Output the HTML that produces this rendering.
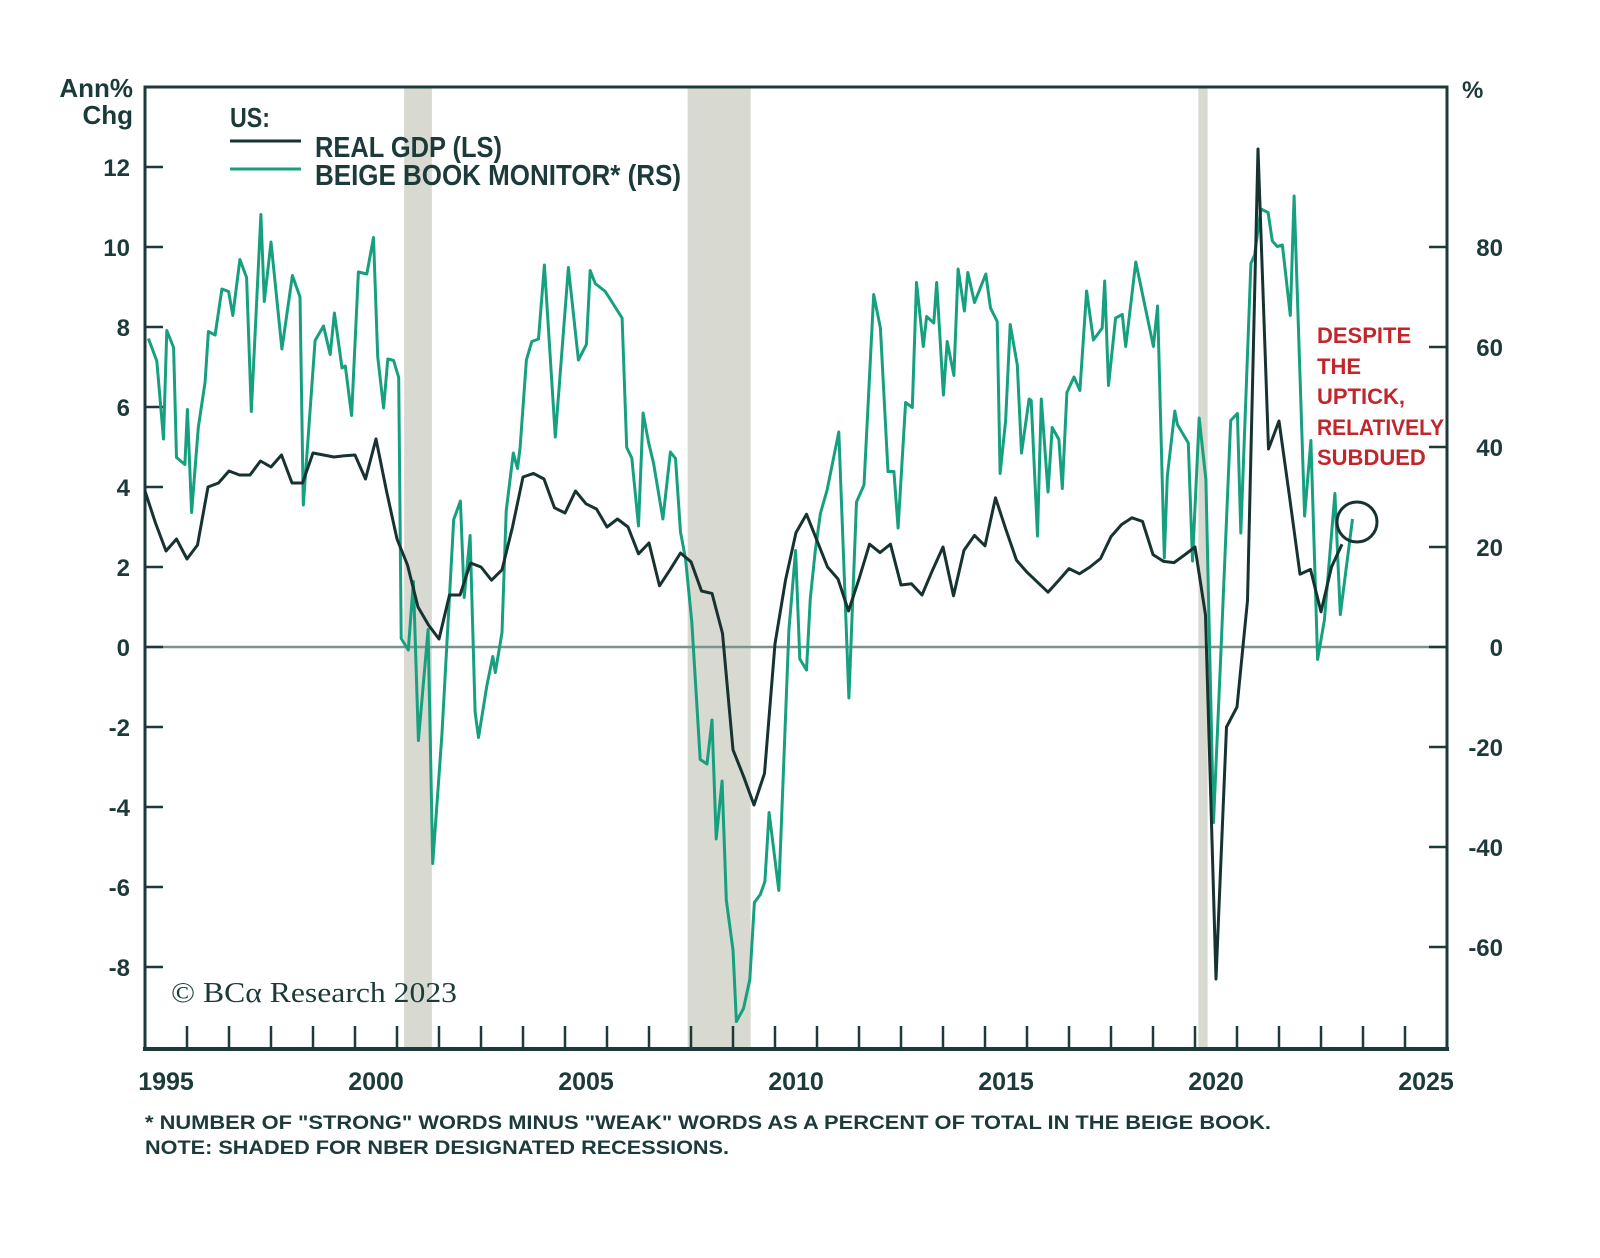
<!DOCTYPE html>
<html><head><meta charset="utf-8"><style>
html,body{margin:0;padding:0;background:#fff;}
svg{display:block;}
text{font-family:"Liberation Sans",sans-serif;fill:#1c3a39;}
</style></head><body>
<svg id="chart" width="1600" height="1258" viewBox="0 0 1600 1258" xmlns="http://www.w3.org/2000/svg">
<g id="shade"></g>
<g id="grid"></g>
<g id="series"></g>
<g>
<text x="230" y="127" font-size="28" font-weight="bold" textLength="40" lengthAdjust="spacingAndGlyphs">US:</text>
<line x1="230" y1="141" x2="301" y2="141" stroke="#163332" stroke-width="3"/>
<text x="315" y="157" font-size="29" font-weight="bold" textLength="187" lengthAdjust="spacingAndGlyphs">REAL GDP (LS)</text>
<line x1="230" y1="169" x2="301" y2="169" stroke="#17a07f" stroke-width="3"/>
<text x="315" y="185" font-size="29" font-weight="bold" textLength="366" lengthAdjust="spacingAndGlyphs">BEIGE BOOK MONITOR* (RS)</text>
</g>
<text x="133" y="97" font-size="26" font-weight="bold" text-anchor="end">Ann%</text>
<text x="133" y="124" font-size="26" font-weight="bold" text-anchor="end">Chg</text>
<text x="1462" y="98" font-size="24" font-weight="bold">%</text>
<g font-weight="bold" font-size="22">
<text x="1317" y="343" style="fill:#c0262c">DESPITE</text>
<text x="1317" y="374" style="fill:#c0262c">THE</text>
<text x="1317" y="404" style="fill:#c0262c">UPTICK,</text>
<text x="1317" y="435" style="fill:#c0262c" textLength="127" lengthAdjust="spacingAndGlyphs">RELATIVELY</text>
<text x="1317" y="465" style="fill:#c0262c">SUBDUED</text>
<ellipse cx="1357" cy="522" rx="20" ry="20" fill="none" stroke="#163332" stroke-width="3"/>
</g>
<text x="171" y="1002" font-size="28" style="font-family:'Liberation Serif',serif" textLength="286" lengthAdjust="spacingAndGlyphs">© BCα Research 2023</text>
<text x="145" y="1129" font-size="19" font-weight="bold" textLength="1126" lengthAdjust="spacingAndGlyphs">* NUMBER OF "STRONG" WORDS MINUS "WEAK" WORDS AS A PERCENT OF TOTAL IN THE BEIGE BOOK.</text>
<text x="145" y="1154" font-size="19" font-weight="bold" textLength="584" lengthAdjust="spacingAndGlyphs">NOTE: SHADED FOR NBER DESIGNATED RECESSIONS.</text>
</svg>
<script>
const gdpStartYear = 1995;
const gdpValues = [3.9,3.1,2.4,2.7,2.2,2.55,4.0,4.1,4.4,4.3,4.3,4.65,4.5,4.8,4.1,4.1,4.85,4.8,4.75,4.78,4.8,4.2,5.2,3.9,2.7,2.05,1.0,0.55,0.2,1.3,1.3,2.1,2.0,1.67,1.93,3.0,4.25,4.34,4.2,3.48,3.35,3.9,3.58,3.45,3.0,3.2,3.0,2.33,2.6,1.53,1.93,2.35,2.13,1.4,1.34,0.34,-2.57,-3.23,-3.95,-3.16,0.08,1.67,2.86,3.32,2.66,2.0,1.7,0.9,1.7,2.57,2.36,2.57,1.55,1.58,1.3,1.92,2.5,1.28,2.42,2.79,2.53,3.73,2.93,2.17,1.87,1.62,1.37,1.66,1.96,1.83,2.0,2.21,2.76,3.06,3.23,3.14,2.31,2.14,2.11,2.3,2.5,0.8,-8.3,-2.0,-1.5,1.16,12.45,4.95,5.65,3.76,1.82,1.94,0.88,2.0,2.57];
const beigeDates = [1995.08,1995.28,1995.44,1995.52,1995.68,1995.75,1995.95,1996.01,1996.11,1996.27,1996.43,1996.51,1996.67,1996.83,1996.99,1997.09,1997.26,1997.42,1997.53,1997.76,1997.84,1998.00,1998.26,1998.51,1998.69,1998.77,1999.05,1999.25,1999.41,1999.51,1999.69,1999.77,1999.92,2000.08,2000.28,2000.44,2000.54,2000.68,2000.78,2000.92,2001.04,2001.10,2001.27,2001.39,2001.51,2001.74,2001.85,2002.07,2002.35,2002.51,2002.60,2002.74,2002.86,2002.94,2003.14,2003.28,2003.34,2003.50,2003.60,2003.77,2003.87,2003.93,2004.08,2004.21,2004.37,2004.51,2004.77,2005.08,2005.32,2005.51,2005.60,2005.72,2005.96,2006.36,2006.47,2006.59,2006.75,2006.86,2006.99,2007.11,2007.33,2007.51,2007.63,2007.75,2007.87,2008.02,2008.22,2008.38,2008.50,2008.60,2008.74,2008.84,2009.00,2009.08,2009.25,2009.40,2009.51,2009.65,2009.76,2009.86,2010.09,2010.33,2010.49,2010.59,2010.75,2010.84,2010.96,2011.08,2011.24,2011.52,2011.76,2011.94,2012.12,2012.35,2012.51,2012.69,2012.83,2012.93,2013.11,2013.27,2013.37,2013.53,2013.61,2013.78,2013.85,2014.01,2014.10,2014.26,2014.36,2014.51,2014.59,2014.75,2014.86,2015.02,2015.13,2015.29,2015.36,2015.49,2015.60,2015.77,2015.87,2016.05,2016.10,2016.25,2016.34,2016.50,2016.60,2016.76,2016.84,2016.95,2017.12,2017.26,2017.42,2017.58,2017.79,2017.85,2017.94,2018.11,2018.27,2018.35,2018.59,2019.01,2019.11,2019.27,2019.34,2019.52,2019.58,2019.84,2019.94,2020.10,2020.26,2020.44,2020.61,2020.85,2021.01,2021.09,2021.33,2021.42,2021.57,2021.74,2021.84,2021.96,2022.08,2022.27,2022.36,2022.61,2022.76,2022.92,2023.08,2023.33,2023.46,2023.75];
const beigeValues = [61.7,57.2,41.6,63.3,59.9,37.9,36.5,47.5,26.9,43.9,53.0,63.1,62.4,71.6,71.1,66.3,77.5,73.9,47.1,86.5,69.1,81.0,59.6,74.3,70.0,28.4,61.3,64.2,58.5,66.8,55.8,56.2,46.3,75.0,74.6,81.9,58.1,47.8,57.6,57.3,53.9,1.7,-0.6,13.1,-18.7,3.5,-43.3,-17.6,25.5,29.2,9.9,22.3,-13.0,-18.1,-7.7,-1.9,-5.1,2.9,27.2,38.8,35.7,39.9,57.4,61.1,61.6,76.4,42.0,75.9,57.4,60.5,75.3,72.7,71.1,65.8,39.9,37.8,24.2,46.8,40.9,36.7,25.6,39.0,37.7,23.0,17.7,5.0,-22.5,-23.4,-14.6,-38.4,-26.8,-50.6,-60.6,-74.9,-72.3,-66.5,-51.1,-49.5,-46.9,-33.1,-48.7,3.4,19.3,-2.4,-4.6,9.7,19.3,26.7,31.4,43.0,-10.2,29.0,32.4,70.5,63.8,35.1,35.1,23.8,48.9,47.9,72.9,60.1,66.1,64.8,72.9,50.4,61.1,54.3,75.6,67.2,74.9,68.9,71.2,74.6,67.8,65.1,34.7,45.2,64.5,56.4,38.8,49.6,49.3,22.2,49.6,31.0,43.9,41.5,31.7,50.9,54.0,51.3,71.2,61.4,63.8,73.2,52.3,65.8,66.5,60.1,77.0,60.1,68.2,17.8,34.1,47.2,44.5,40.8,17.2,45.8,33.5,-35.1,-2.5,45.3,46.7,22.8,76.7,78.4,87.6,86.9,81.2,80.1,80.4,66.3,90.2,26.2,41.3,-2.5,5.4,30.7,6.5,25.6];
const recessionStarts = [2001.17,2007.92,2020.08];
const recessionEnds = [2001.83,2009.42,2020.3];
const leftTicks = [-8,-6,-4,-2,0,2,4,6,8,10,12];
const rightTicks = [-60,-40,-20,0,20,40,60,80];
const yearLabels = [1995,2000,2005,2010,2015,2020,2025];

const X0=145, X1=1447, Y0=87, Y1=1049, T0=1995, T1=2026;
const ZERO_Y=647, LEFT_PX_PER_UNIT=40, RIGHT_PX_PER_UNIT=5;
const xScale = t => X0 + (t - T0) * (X1 - X0) / (T1 - T0);
const yLeft = v => ZERO_Y - v * LEFT_PX_PER_UNIT;
const yRight = v => ZERO_Y - v * RIGHT_PX_PER_UNIT;
const NS = "http://www.w3.org/2000/svg";
function mk(tag, attrs, parent){const e=document.createElementNS(NS,tag);for(const k in attrs)e.setAttribute(k,attrs[k]);parent.appendChild(e);return e;}
const DARK="#1c3a39";

const shade=document.getElementById('shade');
recessionStarts.forEach((s,i)=>{
  const r=mk('rect',{x:xScale(s),y:Y0,width:xScale(recessionEnds[i])-xScale(s),height:Y1-Y0,fill:'#d8d9d0'},shade);
  
  
});

const grid=document.getElementById('grid');
const zl=mk('line',{x1:X0,x2:X1,y1:ZERO_Y,y2:ZERO_Y,stroke:'#7b938d','stroke-width':2.5},grid);


const frame=mk('path',{d:`M${X0},${Y1} L${X0},${Y0} L${X1},${Y0} L${X1},${Y1}`,fill:'none',stroke:DARK,'stroke-width':3},grid);


const xaxis=mk('line',{x1:X0-2,x2:X1+2,y1:Y1,y2:Y1,stroke:DARK,'stroke-width':4},grid);


for(let yr=T0+1; yr<T1; yr++){
  const t=mk('line',{x1:xScale(yr),x2:xScale(yr),y1:Y1-23,y2:Y1,stroke:DARK,'stroke-width':2.5},grid);
  
  
}
yearLabels.forEach(yr=>{
  const t=mk('text',{x:xScale(yr+0.5),y:1090,'font-size':25,'font-weight':'bold','text-anchor':'middle'},grid);
  t.textContent=yr;
  
  
});
leftTicks.forEach(v=>{
  const l=mk('line',{x1:X0,x2:X0+18,y1:yLeft(v),y2:yLeft(v),stroke:DARK,'stroke-width':2.5},grid);
  
  
  const t=mk('text',{x:130,y:yLeft(v)+9,'font-size':24,'font-weight':'bold','text-anchor':'end'},grid);
  t.textContent=v;
  
  
});
rightTicks.forEach(v=>{
  const l=mk('line',{x1:X1-18,x2:X1,y1:yRight(v),y2:yRight(v),stroke:DARK,'stroke-width':2.5},grid);
  
  
  const t=mk('text',{x:1503,y:yRight(v)+9,'font-size':24,'font-weight':'bold','text-anchor':'end'},grid);
  t.textContent=v;
  
  
});

const series=document.getElementById('series');
const bd=beigeDates.map((d,i)=>(i?'L':'M')+xScale(d).toFixed(1)+','+yRight(beigeValues[i]).toFixed(1)).join(' ');
const bl=mk('path',{d:bd,fill:'none',stroke:'#17a07f','stroke-width':3,'stroke-linejoin':'round'},series);


const gd=gdpValues.map((v,i)=>(i?'L':'M')+xScale(gdpStartYear+i/4).toFixed(1)+','+yLeft(v).toFixed(1)).join(' ');
const gl=mk('path',{d:gd,fill:'none',stroke:'#163332','stroke-width':3,'stroke-linejoin':'round'},series);


</script>
</body></html>
